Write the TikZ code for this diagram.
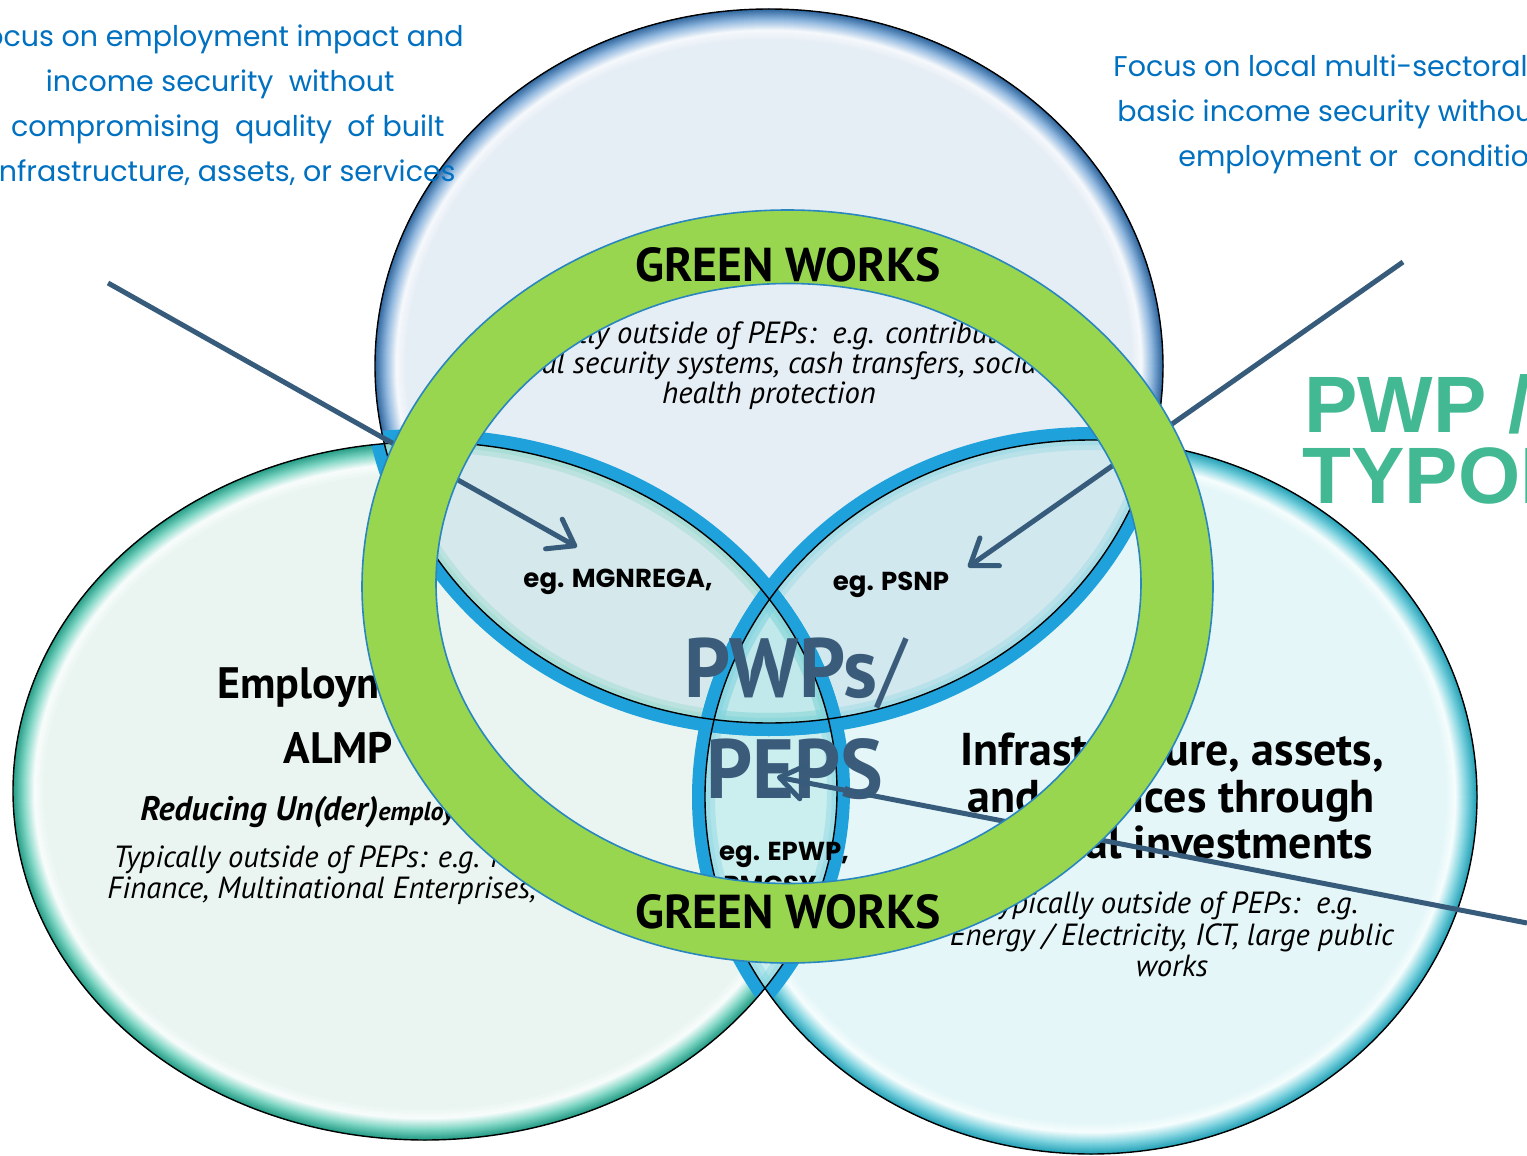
\documentclass[tikz,border=0pt]{standalone}
\usepackage{fontspec}
\usetikzlibrary{arrows.meta}
\setmainfont{PT Sans}
\newfontfamily\popf{Poppins}
\newfontfamily\ptf{PT Sans}
\newfontfamily\pepf[FakeStretch=0.96]{PT Sans}
\newfontfamily\arf{Liberation Sans}
\definecolor{Tin}{HTML}{E5EDF5}
\definecolor{Thi}{HTML}{F6F9FC}
\definecolor{Trim}{HTML}{8DB5DD}
\definecolor{Tedge}{HTML}{30679F}
\definecolor{Lin}{HTML}{EAF5F2}
\definecolor{Lhi}{HTML}{F8FDFC}
\definecolor{Lrim}{HTML}{7FD6C4}
\definecolor{Ledge}{HTML}{279E88}
\definecolor{Rin}{HTML}{E4F6F8}
\definecolor{Rhi}{HTML}{F6FDFD}
\definecolor{Rrim}{HTML}{80D4E0}
\definecolor{Redge}{HTML}{28A3B8}
\definecolor{lensL}{HTML}{D5E8EC}
\definecolor{lensR}{HTML}{D2E8EF}
\definecolor{lensV}{HTML}{CBEEEF}
\definecolor{lensC}{HTML}{C1E8EB}
\definecolor{bandc}{HTML}{1FA1DB}
\definecolor{ringc}{HTML}{98D650}
\definecolor{ringl}{HTML}{2A86BE}
\definecolor{arrc}{HTML}{375C7B}
\definecolor{pepc}{HTML}{3A5B79}
\definecolor{bluet}{HTML}{0070C0}
\definecolor{greent}{HTML}{43B993}
\newcommand\ellT{(769,366) ellipse [x radius=394, y radius=357]}
\newcommand\ellL{(425,791) ellipse [x radius=412, y radius=349]}
\newcommand\ellR{(1091,797) ellipse [x radius=386, y radius=357]}
\newcommand\bandT{(769,366) ellipse [x radius=407, y radius=370] (769,366) ellipse [x radius=394, y radius=357]}
\newcommand\bandL{(425,791) ellipse [x radius=425, y radius=362] (425,791) ellipse [x radius=412, y radius=349]}
\newcommand\bandR{(1091,797) ellipse [x radius=399, y radius=370] (1091,797) ellipse [x radius=386, y radius=357]}
% glassy rim inside an ellipse: #1 path, #2 inner, #3 highlight, #4 rim, #5 edge
\newcommand\glassrim[5]{%
  \begin{scope}
    \clip #1;
    \fill[#2] #1;
    \foreach \d in {32,31,...,1}{%
      \ifnum\d>21
        \pgfmathtruncatemacro\p{(32-\d)*10}\colorlet{rimc}{#3!\p!#2}%
      \else\ifnum\d>10
        \pgfmathtruncatemacro\p{(22-\d)*100/11}\colorlet{rimc}{#4!\p!#3}%
      \else
        \pgfmathtruncatemacro\p{(11-\d)*10}\colorlet{rimc}{#5!\p!#4}%
      \fi\fi
      \draw[line width=\d pt, rimc] #1;
    }
  \end{scope}}
\begin{document}
\begin{tikzpicture}[x=0.5pt,y=-0.5pt,
  bluetxt/.style={text=bluet, font=\popf\fontsize{14.25}{17}\selectfont, inner sep=0pt},
  itxt/.style={font=\ptf\itshape\fontsize{15.3}{18}\selectfont, inner sep=0pt},
  htxt/.style={font=\ptf\bfseries\fontsize{22}{26}\selectfont, inner sep=0pt},
  hrtxt/.style={font=\ptf\bfseries\fontsize{23}{27}\selectfont, inner sep=0pt},
  egtxt/.style={font=\popf\bfseries\fontsize{13}{16}\selectfont, inner sep=0pt},
  peptxt/.style={font=\pepf\bfseries\fontsize{42}{48}\selectfont, text=pepc, inner sep=0pt},
  gwtxt/.style={font=\ptf\bfseries\fontsize{23.8}{27}\selectfont, inner sep=0pt, text height=17pt, text depth=0pt},
  titletxt/.style={font=\arf\bfseries\fontsize{40}{46}\selectfont, text=greent, inner sep=0pt, text height=29pt, text depth=0pt},
  bandfill/.style={fill=bandc, even odd rule},
  outline/.style={draw=black, line width=0.7pt},
  arr/.style={draw=arrc, line width=2.5pt, -{Straight Barb[length=12pt,width=17pt,round]}}
]
\useasboundingbox (0,0) rectangle (1527,1156);
\clip (0,0) rectangle (1527,1156);
\fill[white] (0,0) rectangle (1527,1156);
% three glassy ellipses
\glassrim{\ellT}{Tin}{Thi}{Trim}{Tedge}
\glassrim{\ellL}{Lin}{Lhi}{Lrim}{Ledge}
\glassrim{\ellR}{Rin}{Rhi}{Rrim}{Redge}
% lens fills
\begin{scope}\clip \ellT; \fill[lensL] \ellL; \end{scope}
\begin{scope}\clip \ellT; \fill[lensR] \ellR; \end{scope}
\begin{scope}\clip \ellL; \fill[lensV] \ellR; \end{scope}
\begin{scope}\clip \ellT; \clip \ellL; \fill[lensC] \ellR; \end{scope}
% soft inner edges of the lenses
\begin{scope}\clip \ellT; \clip \ellL;
  \draw[line width=10pt, Lrim, opacity=0.3] \ellT; \draw[line width=10pt, Lrim, opacity=0.3] \ellL;
  \draw[line width=5pt, Lrim, opacity=0.3] \ellT; \draw[line width=5pt, Lrim, opacity=0.3] \ellL; \end{scope}
\begin{scope}\clip \ellT; \clip \ellR;
  \draw[line width=10pt, Rrim, opacity=0.3] \ellT; \draw[line width=10pt, Rrim, opacity=0.3] \ellR;
  \draw[line width=5pt, Rrim, opacity=0.3] \ellT; \draw[line width=5pt, Rrim, opacity=0.3] \ellR; \end{scope}
\begin{scope}\clip \ellL; \clip \ellR;
  \draw[line width=10pt, Rrim, opacity=0.4] \ellL; \draw[line width=10pt, Rrim, opacity=0.4] \ellR;
  \draw[line width=5pt, Rrim, opacity=0.3] \ellL; \draw[line width=5pt, Rrim, opacity=0.3] \ellR; \end{scope}
% blue bands round the lenses
\begin{scope}\clip \ellT; \path[bandfill] \bandL; \path[bandfill] \bandR; \end{scope}
\begin{scope}\clip \ellL; \path[bandfill] \bandT; \path[bandfill] \bandR; \end{scope}
\begin{scope}\clip \ellR; \path[bandfill] \bandT; \path[bandfill] \bandL; \end{scope}
% outlines
\path[outline] \ellT;
\path[outline] \ellL;
\path[outline] \ellR;
% texts in top circle
\node[itxt, anchor=base] (t1) at (769,343) {Typically outside of PEPs:\ \ e.g. contributory};
\node[itxt, anchor=base] (t2) at (769,373) {social security systems, cash transfers, social};
\node[itxt, anchor=base] (t3) at (769,403) {health protection};
% texts in left circle
\node[htxt, anchor=base west] (l1) at (217,698) {Employment};
\node[htxt, anchor=base west] (l2) at (283,763) {ALMP};
\node[font=\ptf\bfseries\itshape\fontsize{17}{20}\selectfont, anchor=base west, inner sep=0pt] (l3) at (140,820) {Reducing Un(der){\fontsize{13}{15}\selectfont employment}};
\node[itxt, anchor=base west] (l4) at (113,867) {Typically outside of PEPs: e.g. Micro};
\node[itxt, anchor=base west] (l5) at (107,898) {Finance, Multinational Enterprises, etc.};
% texts in right circle
\node[hrtxt, anchor=base] (r1) at (1172,765) {Infrastructure, assets,};
\node[hrtxt, anchor=base] (r2) at (1171,812) {and services through};
\node[hrtxt, anchor=base east] (r3) at (1373,858) {capital investments};
\node[itxt, anchor=base] (r4) at (1172,913) {Typically outside of PEPs:\ \ e.g.};
\node[itxt, anchor=base] (r5) at (1172,945) {Energy / Electricity, ICT, large public};
\node[itxt, anchor=base] (r6) at (1172,976) {works};
% lens labels
\node[egtxt, anchor=base] (e1) at (618,587) {eg. MGNREGA,};
\node[egtxt, anchor=base] (e2) at (891,590) {eg. PSNP};
\node[egtxt, anchor=base] (e3) at (784,860) {eg. EPWP,};
\node[egtxt, anchor=base, text depth=0pt] (e4) at (770,894) {PMGSY};
% centre
\node[peptxt, anchor=base] (p1) at (795,697) {PWPs{\mdseries /}};
\node[peptxt, anchor=base] (p2) at (795,798) {PEPS};
% arrows
\coordinate (a1s) at (108,283);
\coordinate (a1e) at (577,547);
\coordinate (a2s) at (1403,262);
\coordinate (a2e) at (968,567);
\coordinate (a3s) at (1527,923);
\coordinate (a3e) at (777,777);
\draw[arr] (a1s) -- (a1e);
\draw[arr] (a2s) -- (a2e);
\draw[arr] (a3s) -- (a3e);
% green ring
\path[fill=ringc, draw=ringl, line width=0.8pt, even odd rule] (787.5,586.5) ellipse [x radius=425.5, y radius=376.5] (788.5,583.5) ellipse [x radius=352.5, y radius=300];
\node[gwtxt, anchor=base] (g1) at (788,281) {GREEN WORKS};
\node[gwtxt, anchor=base] (g2) at (788,928) {GREEN WORKS};
% blue texts
\node[bluetxt, anchor=base east] (b1) at (464,47) {Focus on employment impact and};
\node[bluetxt, anchor=base east] (b2) at (395,92) {income security\ \ without};
\node[bluetxt, anchor=base east] (b3) at (445,137) {compromising\ \ quality\ \ of built};
\node[bluetxt, anchor=base east] (b4) at (456,182) {infrastructure, assets, or services};
\node[bluetxt, anchor=base west] (c1) at (1113,77) {Focus on local multi-sectoral};
\node[bluetxt, anchor=base west] (c2) at (1117,122) {basic income security without};
\node[bluetxt, anchor=base west] (c3) at (1178,167) {employment or\ \ conditionality};
% title
\node[titletxt, anchor=base west] (gt1) at (1304,432) {PWP /};
\node[titletxt, anchor=base west] (gt2) at (1302,503) {TYPOLOGY};
\end{tikzpicture}
\end{document}
